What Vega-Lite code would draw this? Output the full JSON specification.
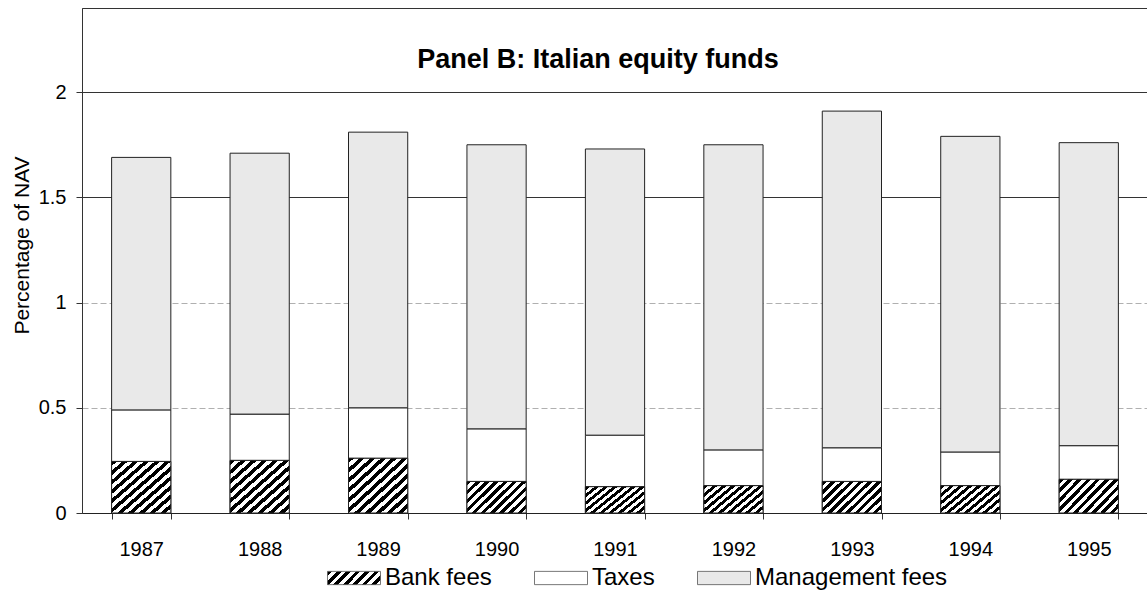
{
  "$schema": "https://vega.github.io/schema/vega-lite/v6.json",
  "autosize": "none",
  "width": 1066,
  "height": 505,
  "padding": {"left": 82, "top": 8, "right": 0, "bottom": 80},
  "background": "white",
  "config": {
    "font": "Liberation Sans",
    "view": {"stroke": "#333", "strokeWidth": 1},
    "axis": {"labelFont": "Liberation Sans", "titleFont": "Liberation Sans", "labelColor": "black", "titleColor": "black"},
    "legend": {"symbolStrokeColor": "#555", "symbolStrokeWidth": 0.8}
  },
  "title": {
    "text": "Panel B: Italian equity funds",
    "font": "Liberation Sans",
    "fontSize": 27,
    "fontWeight": "bold",
    "anchor": "middle",
    "baseline": "middle",
    "offset": -79,
    "dx": -17,
    "color": "black"
  },
  "data": {
    "values": [
      {"year": "1987", "type": "Bank fees", "k": 1, "value": 0.245},
      {"year": "1987", "type": "Taxes", "k": 2, "value": 0.245},
      {"year": "1987", "type": "Management fees", "k": 3, "value": 1.20},
      {"year": "1988", "type": "Bank fees", "k": 1, "value": 0.25},
      {"year": "1988", "type": "Taxes", "k": 2, "value": 0.22},
      {"year": "1988", "type": "Management fees", "k": 3, "value": 1.24},
      {"year": "1989", "type": "Bank fees", "k": 1, "value": 0.26},
      {"year": "1989", "type": "Taxes", "k": 2, "value": 0.24},
      {"year": "1989", "type": "Management fees", "k": 3, "value": 1.31},
      {"year": "1990", "type": "Bank fees", "k": 1, "value": 0.15},
      {"year": "1990", "type": "Taxes", "k": 2, "value": 0.25},
      {"year": "1990", "type": "Management fees", "k": 3, "value": 1.35},
      {"year": "1991", "type": "Bank fees", "k": 1, "value": 0.125},
      {"year": "1991", "type": "Taxes", "k": 2, "value": 0.245},
      {"year": "1991", "type": "Management fees", "k": 3, "value": 1.36},
      {"year": "1992", "type": "Bank fees", "k": 1, "value": 0.13},
      {"year": "1992", "type": "Taxes", "k": 2, "value": 0.17},
      {"year": "1992", "type": "Management fees", "k": 3, "value": 1.45},
      {"year": "1993", "type": "Bank fees", "k": 1, "value": 0.15},
      {"year": "1993", "type": "Taxes", "k": 2, "value": 0.16},
      {"year": "1993", "type": "Management fees", "k": 3, "value": 1.60},
      {"year": "1994", "type": "Bank fees", "k": 1, "value": 0.13},
      {"year": "1994", "type": "Taxes", "k": 2, "value": 0.16},
      {"year": "1994", "type": "Management fees", "k": 3, "value": 1.50},
      {"year": "1995", "type": "Bank fees", "k": 1, "value": 0.16},
      {"year": "1995", "type": "Taxes", "k": 2, "value": 0.16},
      {"year": "1995", "type": "Management fees", "k": 3, "value": 1.44}
    ]
  },
  "encoding": {
    "x": {
      "field": "year",
      "type": "nominal",
      "scale": {"paddingInner": 0.5, "paddingOuter": 0.25},
      "axis": {
        "title": null,
        "labelAngle": 0,
        "labelFontSize": 20,
        "labelPadding": 20,
        "tickSize": 6,
        "tickBand": "extent",
        "tickColor": "#333",
        "domainColor": "#222",
        "grid": false
      }
    }
  },
  "layer": [
    {
      "mark": {"type": "bar", "stroke": "#222", "strokeWidth": 1},
      "encoding": {
        "y": {
          "field": "value",
          "type": "quantitative",
          "stack": "zero",
          "scale": {"domain": [0, 2.4], "nice": false},
          "axis": {
            "title": "Percentage of NAV",
            "titleFontSize": 21,
            "titleFontWeight": "normal",
            "titlePadding": 6,
            "titleY": 237,
            "values": [0, 0.5, 1, 1.5, 2],
            "format": "~g",
            "labelFontSize": 20,
            "labelPadding": 10,
            "tickSize": 6,
            "tickColor": "#333",
            "domainColor": "#333",
            "grid": true,
            "gridColor": {"condition": {"test": "datum.value >= 1.5", "value": "#333"}, "value": "#b0b0b0"},
            "gridDash": {"condition": {"test": "datum.value >= 1.5", "value": []}, "value": [6, 3]}
          }
        },
        "fill": {
          "field": "type",
          "type": "nominal",
          "scale": {
            "domain": ["Bank fees", "Taxes", "Management fees"],
            "range": [
              {"expr": "{gradient: 'linear', x1: 0, y1: 0, x2: 1.174, y2: 0.288, stops: [{offset: 0, color: 'black'}, {offset: 0.0714, color: 'black'}, {offset: 0.0714, color: 'white'}, {offset: 0.1429, color: 'white'}, {offset: 0.1429, color: 'black'}, {offset: 0.2143, color: 'black'}, {offset: 0.2143, color: 'white'}, {offset: 0.2857, color: 'white'}, {offset: 0.2857, color: 'black'}, {offset: 0.3571, color: 'black'}, {offset: 0.3571, color: 'white'}, {offset: 0.4286, color: 'white'}, {offset: 0.4286, color: 'black'}, {offset: 0.5, color: 'black'}, {offset: 0.5, color: 'white'}, {offset: 0.5714, color: 'white'}, {offset: 0.5714, color: 'black'}, {offset: 0.6429, color: 'black'}, {offset: 0.6429, color: 'white'}, {offset: 0.7143, color: 'white'}, {offset: 0.7143, color: 'black'}, {offset: 0.7857, color: 'black'}, {offset: 0.7857, color: 'white'}, {offset: 0.8571, color: 'white'}, {offset: 0.8571, color: 'black'}, {offset: 0.9286, color: 'black'}, {offset: 0.9286, color: 'white'}, {offset: 1, color: 'white'}]}"},
              "white",
              "#e9e9e9"
            ]
          },
          "legend": {
            "title": null,
            "orient": "none",
            "direction": "horizontal",
            "legendX": 245,
            "legendY": 543,
            "symbolType": "M-1,-0.25H1V0.25H-1Z",
            "symbolSize": 2809,
            "symbolStrokeColor": "#555",
            "symbolStrokeWidth": 0.8,
            "symbolOpacity": 1,
            "labelFontSize": 24,
            "labelFont": "Liberation Sans",
            "labelColor": "black",
            "labelOffset": 4,
            "labelLimit": 400,
            "columnPadding": 40
          }
        },
        "order": {"field": "k", "type": "quantitative"}
      }
    },
    {
      "transform": [{"filter": "datum.type === 'Bank fees'"}],
      "mark": {"type": "bar", "stroke": "#222", "strokeWidth": 1},
      "encoding": {
        "y": {"field": "value", "type": "quantitative"},
        "fill": {
          "condition": {
            "test": "datum.value > 0.2",
            "value": {"gradient": "linear", "x1": 0, "y1": 0, "x2": 1, "y2": 1, "stops": [
              {"offset": 0, "color": "black"}, {"offset": 0.045, "color": "black"}, {"offset": 0.045, "color": "white"}, {"offset": 0.091, "color": "white"},
              {"offset": 0.091, "color": "black"}, {"offset": 0.136, "color": "black"}, {"offset": 0.136, "color": "white"}, {"offset": 0.182, "color": "white"},
              {"offset": 0.182, "color": "black"}, {"offset": 0.227, "color": "black"}, {"offset": 0.227, "color": "white"}, {"offset": 0.273, "color": "white"},
              {"offset": 0.273, "color": "black"}, {"offset": 0.318, "color": "black"}, {"offset": 0.318, "color": "white"}, {"offset": 0.364, "color": "white"},
              {"offset": 0.364, "color": "black"}, {"offset": 0.409, "color": "black"}, {"offset": 0.409, "color": "white"}, {"offset": 0.455, "color": "white"},
              {"offset": 0.455, "color": "black"}, {"offset": 0.5, "color": "black"}, {"offset": 0.5, "color": "white"}, {"offset": 0.545, "color": "white"},
              {"offset": 0.545, "color": "black"}, {"offset": 0.591, "color": "black"}, {"offset": 0.591, "color": "white"}, {"offset": 0.636, "color": "white"},
              {"offset": 0.636, "color": "black"}, {"offset": 0.682, "color": "black"}, {"offset": 0.682, "color": "white"}, {"offset": 0.727, "color": "white"},
              {"offset": 0.727, "color": "black"}, {"offset": 0.773, "color": "black"}, {"offset": 0.773, "color": "white"}, {"offset": 0.818, "color": "white"},
              {"offset": 0.818, "color": "black"}, {"offset": 0.864, "color": "black"}, {"offset": 0.864, "color": "white"}, {"offset": 0.909, "color": "white"},
              {"offset": 0.909, "color": "black"}, {"offset": 0.955, "color": "black"}, {"offset": 0.955, "color": "white"}, {"offset": 1, "color": "white"}
            ]}
          },
          "value": {"gradient": "linear", "x1": 0, "y1": 0, "x2": 1.19, "y2": 0.655, "stops": [
            {"offset": 0, "color": "black"}, {"offset": 0.05, "color": "black"}, {"offset": 0.05, "color": "white"}, {"offset": 0.1, "color": "white"},
            {"offset": 0.1, "color": "black"}, {"offset": 0.15, "color": "black"}, {"offset": 0.15, "color": "white"}, {"offset": 0.2, "color": "white"},
            {"offset": 0.2, "color": "black"}, {"offset": 0.25, "color": "black"}, {"offset": 0.25, "color": "white"}, {"offset": 0.3, "color": "white"},
            {"offset": 0.3, "color": "black"}, {"offset": 0.35, "color": "black"}, {"offset": 0.35, "color": "white"}, {"offset": 0.4, "color": "white"},
            {"offset": 0.4, "color": "black"}, {"offset": 0.45, "color": "black"}, {"offset": 0.45, "color": "white"}, {"offset": 0.5, "color": "white"},
            {"offset": 0.5, "color": "black"}, {"offset": 0.55, "color": "black"}, {"offset": 0.55, "color": "white"}, {"offset": 0.6, "color": "white"},
            {"offset": 0.6, "color": "black"}, {"offset": 0.65, "color": "black"}, {"offset": 0.65, "color": "white"}, {"offset": 0.7, "color": "white"},
            {"offset": 0.7, "color": "black"}, {"offset": 0.75, "color": "black"}, {"offset": 0.75, "color": "white"}, {"offset": 0.8, "color": "white"},
            {"offset": 0.8, "color": "black"}, {"offset": 0.85, "color": "black"}, {"offset": 0.85, "color": "white"}, {"offset": 0.9, "color": "white"},
            {"offset": 0.9, "color": "black"}, {"offset": 0.95, "color": "black"}, {"offset": 0.95, "color": "white"}, {"offset": 1, "color": "white"}
          ]}
        }
      }
    }
  ]
}
